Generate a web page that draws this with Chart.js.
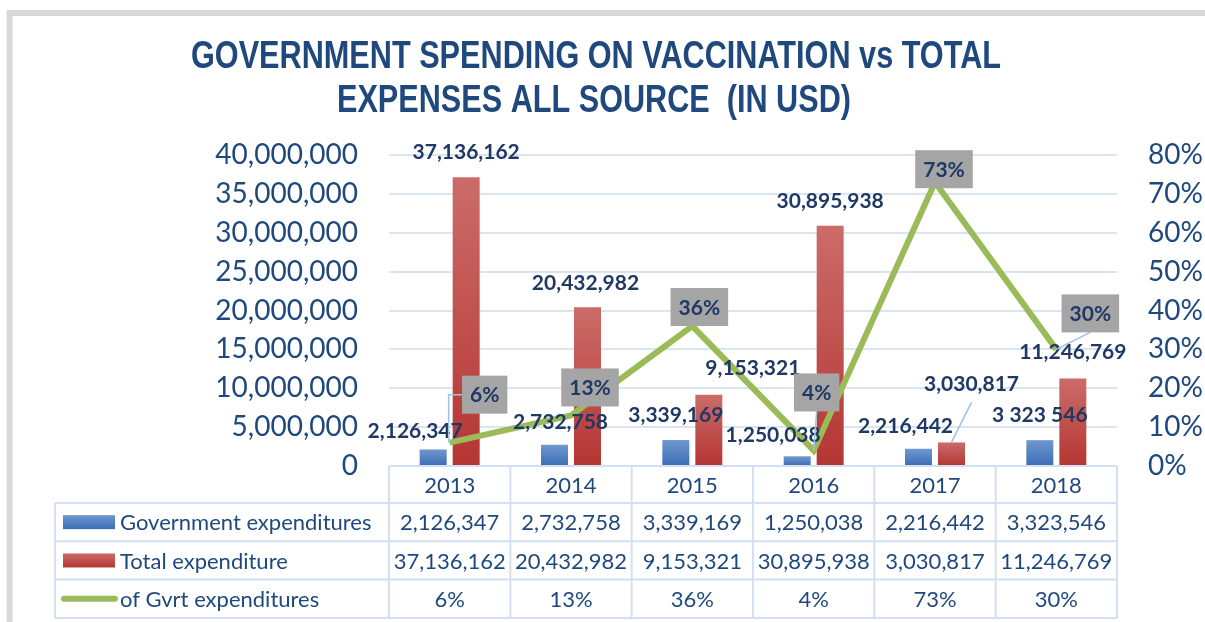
<!DOCTYPE html>
<html>
<head>
<meta charset="utf-8">
<title>Government spending on vaccination vs total expenses</title>
<script src="https://cdn.jsdelivr.net/npm/chart.js@4.4.1/dist/chart.umd.min.js"></script>
<style>
  html, body { margin: 0; padding: 0; background: #fff; }
  #wrap { width: 1205px; height: 622px; }
</style>
</head>
<body>
<div id="wrap"><canvas id="chart" width="1205" height="622"></canvas></div>
<script>
// ── Data ───────────────────────────────────────────────────
const years = ['2013', '2014', '2015', '2016', '2017', '2018'];
const govExpenditure = [2126347, 2732758, 3339169, 1250038, 2216442, 3323546];
const totalExpenditure = [37136162, 20432982, 9153321, 30895938, 3030817, 11246769];
const govShare = [6, 13, 36, 4, 73, 30]; // percent
const seriesNames = ['Government expenditures', 'Total expenditure', 'of Gvrt expenditures'];
const usdMax = 40000000, usdStep = 5000000;
const pctMax = 80, pctStep = 10;

// ── Look ───────────────────────────────────────────────────
const NAVY = '#1F497D';
const LABEL_NAVY = '#1F3864';
const FONT = 'Lato, "Open Sans", sans-serif';
const BLUE = ['#7098D0', '#3B6CB4'];
const RED = ['#CB6C68', '#B53633'];
const GREEN = '#9BBB59';
const GRID = '#DAE5F2';

// label nudges in px, relative to the top of each mark (Excel labels were hand placed)
const govNudge = [[-18, -18], [6, -23], [0, -25], [-24, -21], [-13, -23], [0, -25]];
const totalNudge = [[0, -25], [-2, -24], [44, -27], [0, -25], [20, -58], [0, -26]];
const shareNudge = [[35, -48], [19, -28], [7, -19], [3, -58], [9, -13], [34, -36]];
const totalLeader = [null, null, null, null, 'down', null];
const shareLeader = ['elbow', null, null, 'down', null, 'down'];

const fmt = v => v.toLocaleString('en-US');
const govLabel = (v, i) => i === 5 ? fmt(v).replace(/,/g, ' ') : fmt(v);

function barGradient(colors) {
  return ctx => {
    const chart = ctx.chart;
    if (!chart.chartArea || ctx.type !== 'data') return colors[1];
    const y = chart.scales.y;
    const g = chart.ctx.createLinearGradient(0, y.getPixelForValue(ctx.raw), 0, y.getPixelForValue(0));
    g.addColorStop(0, colors[0]);
    g.addColorStop(1, colors[1]);
    return g;
  };
}

// ── Plugins ────────────────────────────────────────────────

const frame = {
  id: 'frame',
  beforeDraw(chart) {
    const c = chart.ctx;
    c.save();
    c.fillStyle = '#fff';
    c.fillRect(0, 0, chart.width, chart.height);
    c.strokeStyle = '#D9D9D9';
    c.lineWidth = 6;
    c.beginPath();
    c.moveTo(9.5, chart.height + 5);
    c.lineTo(9.5, 13);
    c.lineTo(chart.width + 5, 13);
    c.stroke();
    c.restore();
  }
};

const titleBlock = {
  id: 'titleBlock',
  afterDraw(chart) {
    const c = chart.ctx;
    c.save();
    c.fillStyle = NAVY;
    c.font = 'bold 39px "Liberation Sans Narrow", "Arial Narrow", "Liberation Sans", sans-serif';
    c.textAlign = 'center';
    c.textBaseline = 'alphabetic';
    c.fillText('GOVERNMENT SPENDING ON VACCINATION vs TOTAL', 596, 68, 810);
    c.fillText('EXPENSES ALL SOURCE  (IN USD)', 594, 112, 514);
    c.restore();
  }
};

function drawLeader(c, kind, box, pt) {
  c.beginPath();
  if (kind === 'elbow') {
    c.moveTo(box.x - box.w / 2, box.y);
    c.lineTo(pt.x - 1, box.y);
    c.lineTo(pt.x - 1, pt.y);
  } else {
    c.moveTo(box.x, box.y + box.h / 2);
    c.lineTo(pt.x, pt.y);
  }
  c.stroke();
}

const dataLabels = {
  id: 'dataLabels',
  afterDatasetsDraw(chart) {
    const c = chart.ctx;
    c.save();
    c.font = 'bold 21px ' + FONT;
    c.textAlign = 'center';
    c.textBaseline = 'middle';
    c.strokeStyle = '#9DC3E6';
    c.lineWidth = 1.5;

    const gov = chart.getDatasetMeta(0).data;
    const tot = chart.getDatasetMeta(1).data;
    const pct = chart.getDatasetMeta(2).data;

    gov.forEach((el, i) => {
      c.fillStyle = LABEL_NAVY;
      c.fillText(govLabel(govExpenditure[i], i), el.x + govNudge[i][0], el.y + govNudge[i][1]);
    });
    tot.forEach((el, i) => {
      const x = el.x + totalNudge[i][0], y = el.y + totalNudge[i][1];
      if (totalLeader[i]) drawLeader(c, 'down', { x, y: y + 8, w: 0, h: 20 }, { x: el.x, y: el.y });
      c.fillStyle = LABEL_NAVY;
      c.fillText(fmt(totalExpenditure[i]), x, y);
    });
    pct.forEach((el, i) => {
      const txt = govShare[i] + '%';
      const w = c.measureText(txt).width + 16, h = 38;
      const box = { x: el.x + shareNudge[i][0], y: el.y + shareNudge[i][1], w, h };
      if (shareLeader[i]) drawLeader(c, shareLeader[i], box, { x: el.x, y: el.y });
      c.fillStyle = '#A5A5A5';
      c.fillRect(box.x - w / 2, box.y - h / 2, w, h);
      c.fillStyle = LABEL_NAVY;
      c.fillText(txt, box.x, box.y + 1);
    });
    c.restore();
  }
};

const dataTable = {
  id: 'dataTable',
  afterDraw(chart) {
    const c = chart.ctx, area = chart.chartArea, xs = chart.scales.x;
    const n = chart.data.labels.length;
    const colW = (area.right - area.left) / n;
    const top = area.bottom, headH = 37, rowH = 38.3, legendLeft = 55;
    const rows = [govExpenditure.map(fmt), totalExpenditure.map(fmt), govShare.map(v => v + '%')];
    const bottom = top + headH + rows.length * rowH;

    c.save();
    c.strokeStyle = '#D3E0F1';
    c.lineWidth = 2;
    c.beginPath();
    c.moveTo(area.left, top); c.lineTo(area.right, top);
    for (let r = 0; r <= rows.length; r++) {
      const y = top + headH + r * rowH;
      c.moveTo(legendLeft, y); c.lineTo(area.right, y);
    }
    for (let i = 0; i <= n; i++) {
      const x = area.left + i * colW;
      c.moveTo(x, top); c.lineTo(x, bottom);
    }
    c.moveTo(legendLeft, top + headH); c.lineTo(legendLeft, bottom);
    c.stroke();

    c.fillStyle = NAVY;
    c.font = '22px ' + FONT;
    c.textAlign = 'center';
    c.textBaseline = 'middle';
    chart.data.labels.forEach((lab, i) => c.fillText(lab, xs.getPixelForValue(i), top + headH / 2 + 1));
    rows.forEach((vals, r) => {
      const cy = top + headH + r * rowH + rowH / 2 + 1;
      vals.forEach((v, i) => c.fillText(v, xs.getPixelForValue(i), cy));
    });

    // legend keys
    c.textAlign = 'left';
    rows.forEach((_, r) => {
      const cy = top + headH + r * rowH + rowH / 2;
      if (r < 2) {
        const cols = r === 0 ? BLUE : RED;
        const g = c.createLinearGradient(0, cy - 7, 0, cy + 7);
        g.addColorStop(0, cols[0]); g.addColorStop(1, cols[1]);
        c.fillStyle = g;
        c.fillRect(63, cy - 7, 52, 14);
      } else {
        c.strokeStyle = GREEN;
        c.lineWidth = 6;
        c.lineCap = 'round';
        c.beginPath(); c.moveTo(64, cy); c.lineTo(115, cy); c.stroke();
      }
      c.fillStyle = NAVY;
      c.fillText(seriesNames[r], 120, cy + 1);
    });
    c.restore();
  }
};

// ── Chart ──────────────────────────────────────────────────

const tickFont = { family: FONT, size: 28 };

new Chart(document.getElementById('chart'), {
  type: 'bar',
  data: {
    labels: years,
    datasets: [
      { label: seriesNames[0], data: govExpenditure, backgroundColor: barGradient(BLUE), yAxisID: 'y', order: 1,
        categoryPercentage: 0.544, barPercentage: 0.818 },
      { label: seriesNames[1], data: totalExpenditure, backgroundColor: barGradient(RED), yAxisID: 'y', order: 1,
        categoryPercentage: 0.544, barPercentage: 0.818 },
      { label: seriesNames[2], data: govShare, type: 'line', yAxisID: 'y1', order: 0,
        borderColor: GREEN, borderWidth: 6, pointRadius: 0, tension: 0 },
    ]
  },
  options: {
    responsive: false,
    animation: false,
    devicePixelRatio: 1,
    layout: { padding: { top: 155, bottom: 156, left: 0, right: 0 } },
    plugins: { legend: { display: false }, title: { display: false }, tooltip: { enabled: true } },
    scales: {
      x: { display: false },
      y: {
        position: 'left', min: 0, max: usdMax,
        afterFit: s => { s.width = 389; },
        ticks: { stepSize: usdStep, color: NAVY, font: tickFont, padding: 31, callback: v => fmt(v) },
        grid: { color: GRID, lineWidth: 2, drawTicks: false },
        border: { display: false }
      },
      y1: {
        position: 'right', min: 0, max: pctMax,
        afterFit: s => { s.width = 88; },
        ticks: { stepSize: pctStep, color: NAVY, font: tickFont, padding: 31, callback: v => v + '%' },
        grid: { display: false, drawTicks: false },
        border: { display: false }
      }
    }
  },
  plugins: [frame, titleBlock, dataLabels, dataTable]
});
</script>
</body>
</html>
